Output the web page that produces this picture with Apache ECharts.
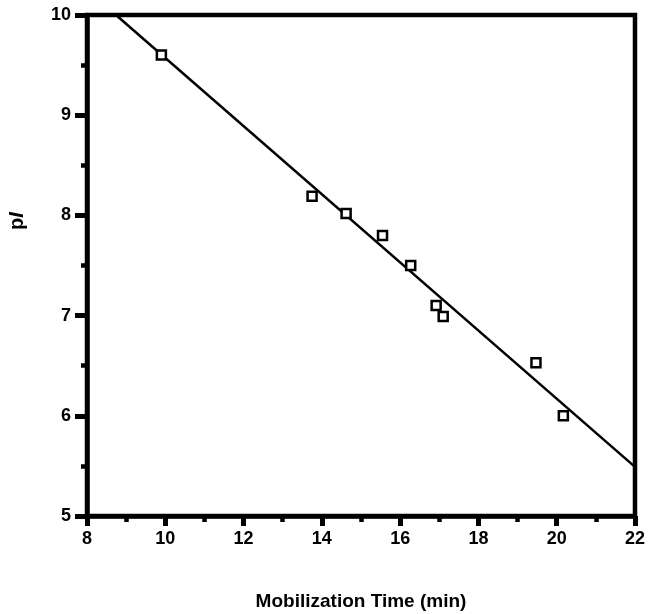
<!DOCTYPE html>
<html>
<head>
<meta charset="utf-8">
<script src="https://cdn.jsdelivr.net/npm/echarts@6/dist/echarts.min.js"></script>
<style>html,body{margin:0;padding:0;background:#fff}#c{width:648px;height:614px}</style>
</head>
<body>
<div id="c"></div>
<script>
const mobilizationTime = [9.9, 13.75, 14.62, 15.55, 16.27, 16.92, 17.1, 19.47, 20.17];
const pIValues = [9.6, 8.19, 8.02, 7.8, 7.5, 7.1, 6.99, 6.53, 6.0];
const fitX = [8.74, 22];
const fitY = [10, 5.49];
const xTitle = 'Mobilization Time (min)';

const chart = echarts.init(document.getElementById('c'));
const font = 'Liberation Sans, Arial, sans-serif';
chart.setOption({
  animation: false,
  backgroundColor: '#fff',
  grid: { left: 87, right: 11, top: 15, bottom: 98, show: true, borderColor: '#000', borderWidth: 4.5, backgroundColor: 'transparent' },
  xAxis: {
    type: 'value', min: 8, max: 22, interval: 2,
    axisLine: { show: true, onZero: false, lineStyle: { color: '#000', width: 4.5 } },
    axisTick: { show: true, length: 10, lineStyle: { color: '#000', width: 5 } },
    minorTick: { show: true, splitNumber: 2, length: 6, lineStyle: { color: '#000', width: 4.5 } },
    splitLine: { show: false },
    axisLabel: { color: '#000', fontSize: 18, fontWeight: 'bold', fontFamily: font, margin: 14 }
  },
  yAxis: {
    type: 'value', min: 5, max: 10, interval: 1,
    axisLine: { show: true, onZero: false, lineStyle: { color: '#000', width: 4.5 } },
    axisTick: { show: true, length: 12, lineStyle: { color: '#000', width: 5 } },
    minorTick: { show: true, splitNumber: 2, length: 6, lineStyle: { color: '#000', width: 4.5 } },
    splitLine: { show: false },
    axisLabel: { color: '#000', fontSize: 18, fontWeight: 'bold', fontFamily: font, margin: 16 }
  },
  series: [
    {
      type: 'line', data: fitX.map((x, i) => [x, fitY[i]]), symbol: 'none', clip: true,
      lineStyle: { color: '#000', width: 2.5 }, z: 2
    },
    {
      type: 'scatter', data: mobilizationTime.map((x, i) => [x, pIValues[i]]),
      symbol: 'rect', symbolSize: 9,
      itemStyle: { color: '#fff', borderColor: '#000', borderWidth: 2.5, opacity: 1 }, z: 3
    }
  ],
  graphic: [
    { type: 'text', x: 361, y: 602, style: { text: xTitle, font: 'bold 19px ' + font, fill: '#000', align: 'center', verticalAlign: 'middle' } },
    { type: 'text', x: 17, y: 221, rotation: Math.PI / 2,
      style: { text: '{a|p}{b|I}', rich: { a: { font: 'bold 20px ' + font, fill: '#000' }, b: { font: 'italic bold 20px ' + font, fill: '#000' } }, align: 'center', verticalAlign: 'middle' } }
  ]
});
</script>
</body>
</html>
